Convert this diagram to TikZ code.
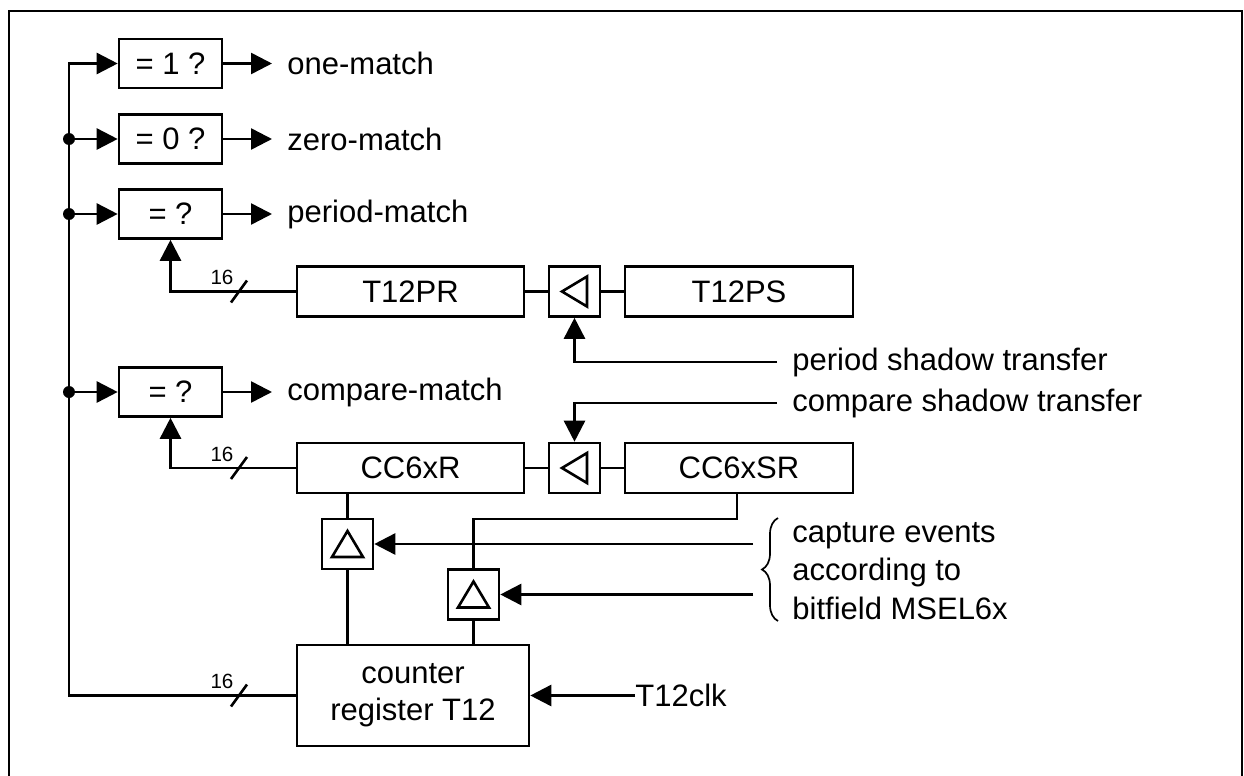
\documentclass[tikz,border=0pt]{standalone}
\usepackage{fontspec}
\setmainfont{Liberation Sans}
\usetikzlibrary{arrows.meta,decorations.pathreplacing}
\tikzset{
  ln/.style={line width=1.3pt},
  arr/.style={ln,-{Triangle[length=10.5pt,width=10.5pt]}},
  cmpbox/.style={draw,ln,minimum width=51.5pt,minimum height=24.5pt,inner sep=0pt,font=\fontsize{15.5pt}{19pt}\selectfont},
  regbox/.style={draw,ln,minimum width=113.5pt,minimum height=25pt,inner sep=0pt,font=\fontsize{15.5pt}{19pt}\selectfont},
  gatebox/.style={draw,ln,minimum width=25.5pt,minimum height=25pt,inner sep=0pt},
  lbl/.style={inner sep=0pt,anchor=west,font=\fontsize{15.5pt}{19pt}\selectfont},
  small/.style={inner sep=0pt,font=\fontsize{10.3pt}{12pt}\selectfont},
  dot/.style={circle,fill,inner sep=0pt,minimum size=6pt}
}
\begin{document}
\begin{tikzpicture}[x=0.5pt,y=-0.5pt]
\useasboundingbox (0,0) rectangle (1244,776);
\draw[ln] (9,800) -- (9,11) -- (1242,11) -- (1242,800);

% compare boxes
\node[cmpbox] (eq1) at (170.5,63.5) {= 1 ?};
\node[cmpbox] (eq0) at (170.5,139) {= 0 ?};
\node[cmpbox] (eqp) at (170.5,214) {= ?};
\node[cmpbox] (eqc) at (170.5,392) {= ?};

% output labels
\node[lbl] (one) at (287,63.5) {one-match};
\node[lbl] (zero) at (287,139) {zero-match};
\node[lbl] (per) at (287,214) {period-match};
\node[lbl] (cmp) at (287,392) {compare-match};
\foreach \b/\t in {eq1/one,eq0/zero,eqp/per,eqc/cmp}
  \draw[arr,shorten >=7.5pt] (\b.east) -- (\b.east -| \t.west);

% registers
\node[regbox] (T12PR) at (410.5,291.5) {T12PR};
\node[gatebox] (trP) at (574.5,291.5) {};
\node[regbox,minimum width=114pt] (T12PS) at (739,291.5) {T12PS};
\node[regbox] (CC6xR) at (410.5,468) {CC6xR};
\node[gatebox] (trC) at (574.5,468) {};
\node[regbox,minimum width=114pt] (CC6xSR) at (739,468) {CC6xSR};
\node[gatebox] (cap1) at (347.5,544) {};
\node[gatebox] (cap2) at (473.5,594.5) {};
\node[draw,ln,minimum width=116pt,minimum height=50.5pt,align=center,inner sep=0pt,font=\fontsize{15.5pt}{18.5pt}\selectfont] (counter) at (413,695.5) {counter\\register T12};

% triangles in gate boxes
\foreach \g in {trP,trC}
  \draw[ln] ([shift={(-12.5,0)}]\g.center) -- ([shift={(12.5,-15)}]\g.center) -- ([shift={(12.5,15)}]\g.center) -- cycle;
\foreach \g in {cap1,cap2}
  \draw[ln] ([shift={(0,-13)}]\g.center) -- ([shift={(15.5,13)}]\g.center) -- ([shift={(-15.5,13)}]\g.center) -- cycle;

% bus
\coordinate (bbot) at (69,695.5);
\coordinate (b1) at (69,63.5);
\coordinate (b2) at (69,139);
\coordinate (b3) at (69,214);
\coordinate (b4) at (69,392);
\draw[arr] (counter.west) -- (bbot) -- (b1) -- (eq1.west);
\foreach \c/\b in {b2/eq0,b3/eqp,b4/eqc}{
  \draw[arr] (\c) -- (\b.west);
  \node[dot] at (\c) {};
}

% register to comparators
\draw[arr] (T12PR.west) -| (eqp.south);
\draw[arr] (CC6xR.west) -| (eqc.south);

% 16-bit slashes
\foreach \y/\n in {291.5/sA,468/sB,695.5/sC}{
  \coordinate (\n) at (239,\y);
  \draw[ln] ([shift={(-8,11)}]\n) -- ([shift={(8,-11)}]\n);
  \node[small] at ([shift={(-17,-14)}]\n) {16};
}

% register links
\draw[ln] (T12PR.east) -- (trP.west);
\draw[ln] (trP.east) -- (T12PS.west);
\draw[ln] (CC6xR.east) -- (trC.west);
\draw[ln] (trC.east) -- (CC6xSR.west);

% shadow transfers
\node[lbl] (pst) at (792,362) {period shadow transfer};
\node[lbl] (cst) at (792,403) {compare shadow transfer};
\draw[arr,shorten <=7.5pt] (pst.west) -| (trP.south);
\draw[arr,shorten <=7.5pt] (cst.west) -| (trC.north);

% capture paths
\draw[ln] (cap1.north |- CC6xR.south) -- (cap1.north);
\draw[ln] (cap1.south) -- (cap1.south |- counter.north);
\coordinate (k) at (473.5,519);
\draw[ln] (CC6xSR.south -| 737,0) |- (k) -- (cap2.north);
\draw[ln] (cap2.south) -- (cap2.south |- counter.north);

\coordinate (ce1) at (753,544);
\coordinate (ce2) at (753,594.5);
\draw[arr] (ce1) -- (cap1.east);
\draw[arr] (ce2) -- (cap2.east);

\coordinate (brB) at (778,621);
\coordinate (brT) at (778,518);
\draw[line width=0.85pt,decorate,decoration={brace,amplitude=8pt}] (brB) -- (brT);
\node[lbl,align=left,font=\fontsize{15.5pt}{19.25pt}\selectfont] (capt) at (792,571) {capture events\\according to\\bitfield MSEL6x};

% clock
\node[lbl] (clk) at (635,695.5) {T12clk};
\draw[arr] (clk.west) -- (counter.east);
\end{tikzpicture}
\end{document}
